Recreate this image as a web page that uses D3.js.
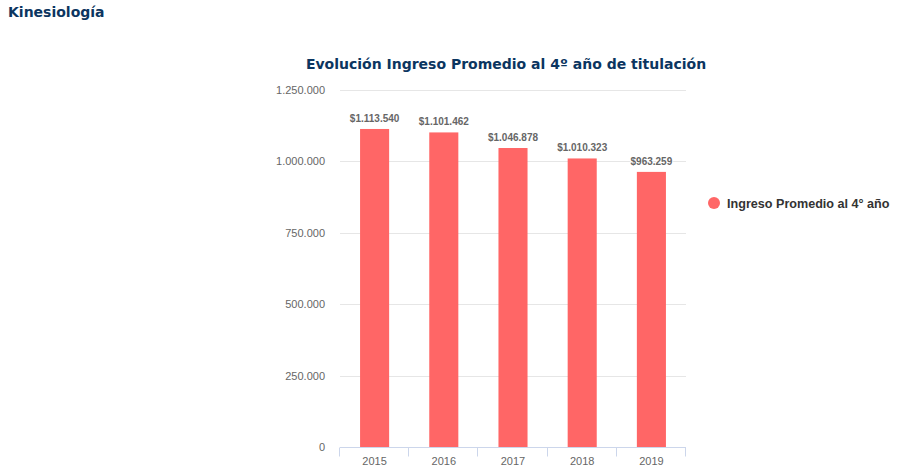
<!DOCTYPE html>
<html>
<head>
<meta charset="utf-8">
<script src="https://cdn.jsdelivr.net/npm/d3@7"></script>
<style>
  body { margin: 0; background: #fff; }
  svg text { font-family: "Liberation Sans", Arial, sans-serif; }
</style>
</head>
<body>
<svg width="908" height="476"></svg>
<script>
// chart data
var years = ["2015", "2016", "2017", "2018", "2019"];
var ingreso = [1113540, 1101462, 1046878, 1010323, 963259];
var yTicks = [0, 250000, 500000, 750000, 1000000, 1250000];
var seriesName = "Ingreso Promedio al 4° año";

var svg = d3.select("svg");
var fmt = d3.formatLocale({ decimal: ",", thousands: ".", grouping: [3], currency: ["$", ""] });
var num = fmt.format(",.0f");

var plotLeft = 340, plotRight = 686, plotTop = 90, plotBottom = 447;

var x = d3.scaleBand().domain(years).range([plotLeft, plotRight]).paddingInner(0.58).paddingOuter(0.29);
var xb = d3.scaleBand().domain(years).range([plotLeft, plotRight]);
var y = d3.scaleLinear().domain([0, 1250000]).range([plotBottom, plotTop]);

svg.append("text")
    .attr("x", 8).attr("y", 17)
    .style("font-family", "DejaVu Sans, Verdana, sans-serif")
    .style("font-weight", "bold").style("font-size", "14px")
    .attr("fill", "#0b3560")
    .text("Kinesiología");

svg.append("text")
    .attr("x", 506).attr("y", 69)
    .attr("text-anchor", "middle")
    .style("font-family", "DejaVu Sans, Verdana, sans-serif")
    .style("font-weight", "bold").style("font-size", "14px")
    .attr("fill", "#0b3560")
    .text("Evolución Ingreso Promedio al 4º año de titulación");

// gridlines
svg.selectAll(".grid")
    .data(yTicks.slice(1))
    .enter().append("line")
    .attr("x1", plotLeft).attr("x2", plotRight)
    .attr("y1", function (d) { return Math.round(y(d)) + 0.5 })
    .attr("y2", function (d) { return Math.round(y(d)) + 0.5 })
    .attr("stroke", "#e6e6e6");

svg.selectAll(".ylab")
    .data(yTicks)
    .enter().append("text")
    .attr("x", 325)
    .attr("y", function (d) { return y(d) + 4 })
    .attr("text-anchor", "end")
    .style("font-size", "11px")
    .attr("fill", "#666")
    .text(function (d) { return num(d) });

// bars
svg.selectAll(".bar")
    .data(ingreso)
    .enter().append("rect")
    .attr("x", function (d, i) { return x(years[i]) })
    .attr("width", x.bandwidth())
    .attr("y", function (d) { return y(d) })
    .attr("height", function (d) { return plotBottom - y(d) })
    .attr("fill", "#ff6666");

svg.selectAll(".dl")
    .data(ingreso)
    .enter().append("text")
    .attr("x", function (d, i) { return x(years[i]) + x.bandwidth() / 2 })
    .attr("y", function (d) { return y(d) - 7 })
    .attr("text-anchor", "middle")
    .style("font-size", "10px").style("font-weight", "bold")
    .attr("fill", "#666")
    .attr("stroke", "#fff").attr("stroke-width", 2).attr("paint-order", "stroke")
    .text(function (d) { return "$" + num(d) });

// x axis
var xAxis = svg.append("g").attr("transform", "translate(0," + (plotBottom + 0.5) + ")");
xAxis.append("line").attr("x1", plotLeft).attr("x2", plotRight).attr("stroke", "#ccd6eb");
var ticks = years.map(function (d) { return xb(d) }).concat([plotRight]);
xAxis.selectAll(".tk")
    .data(ticks)
    .enter().append("line")
    .attr("x1", function (d) { return Math.round(d) - 0.5 })
    .attr("x2", function (d) { return Math.round(d) - 0.5 })
    .attr("y1", 0).attr("y2", 9)
    .attr("stroke", "#ccd6eb");
xAxis.selectAll(".xl")
    .data(years)
    .enter().append("text")
    .attr("x", function (d) { return xb(d) + xb.bandwidth() / 2 })
    .attr("y", 17)
    .attr("text-anchor", "middle")
    .style("font-size", "11px")
    .attr("fill", "#666")
    .text(function (d) { return d });

// legend
svg.append("circle").attr("cx", 714).attr("cy", 203).attr("r", 6).attr("fill", "#ff6666");
svg.append("text")
    .attr("x", 727).attr("y", 207.5)
    .style("font-size", "12.6px").style("font-weight", "bold")
    .attr("fill", "#333")
    .text(seriesName);
</script>
</body>
</html>
